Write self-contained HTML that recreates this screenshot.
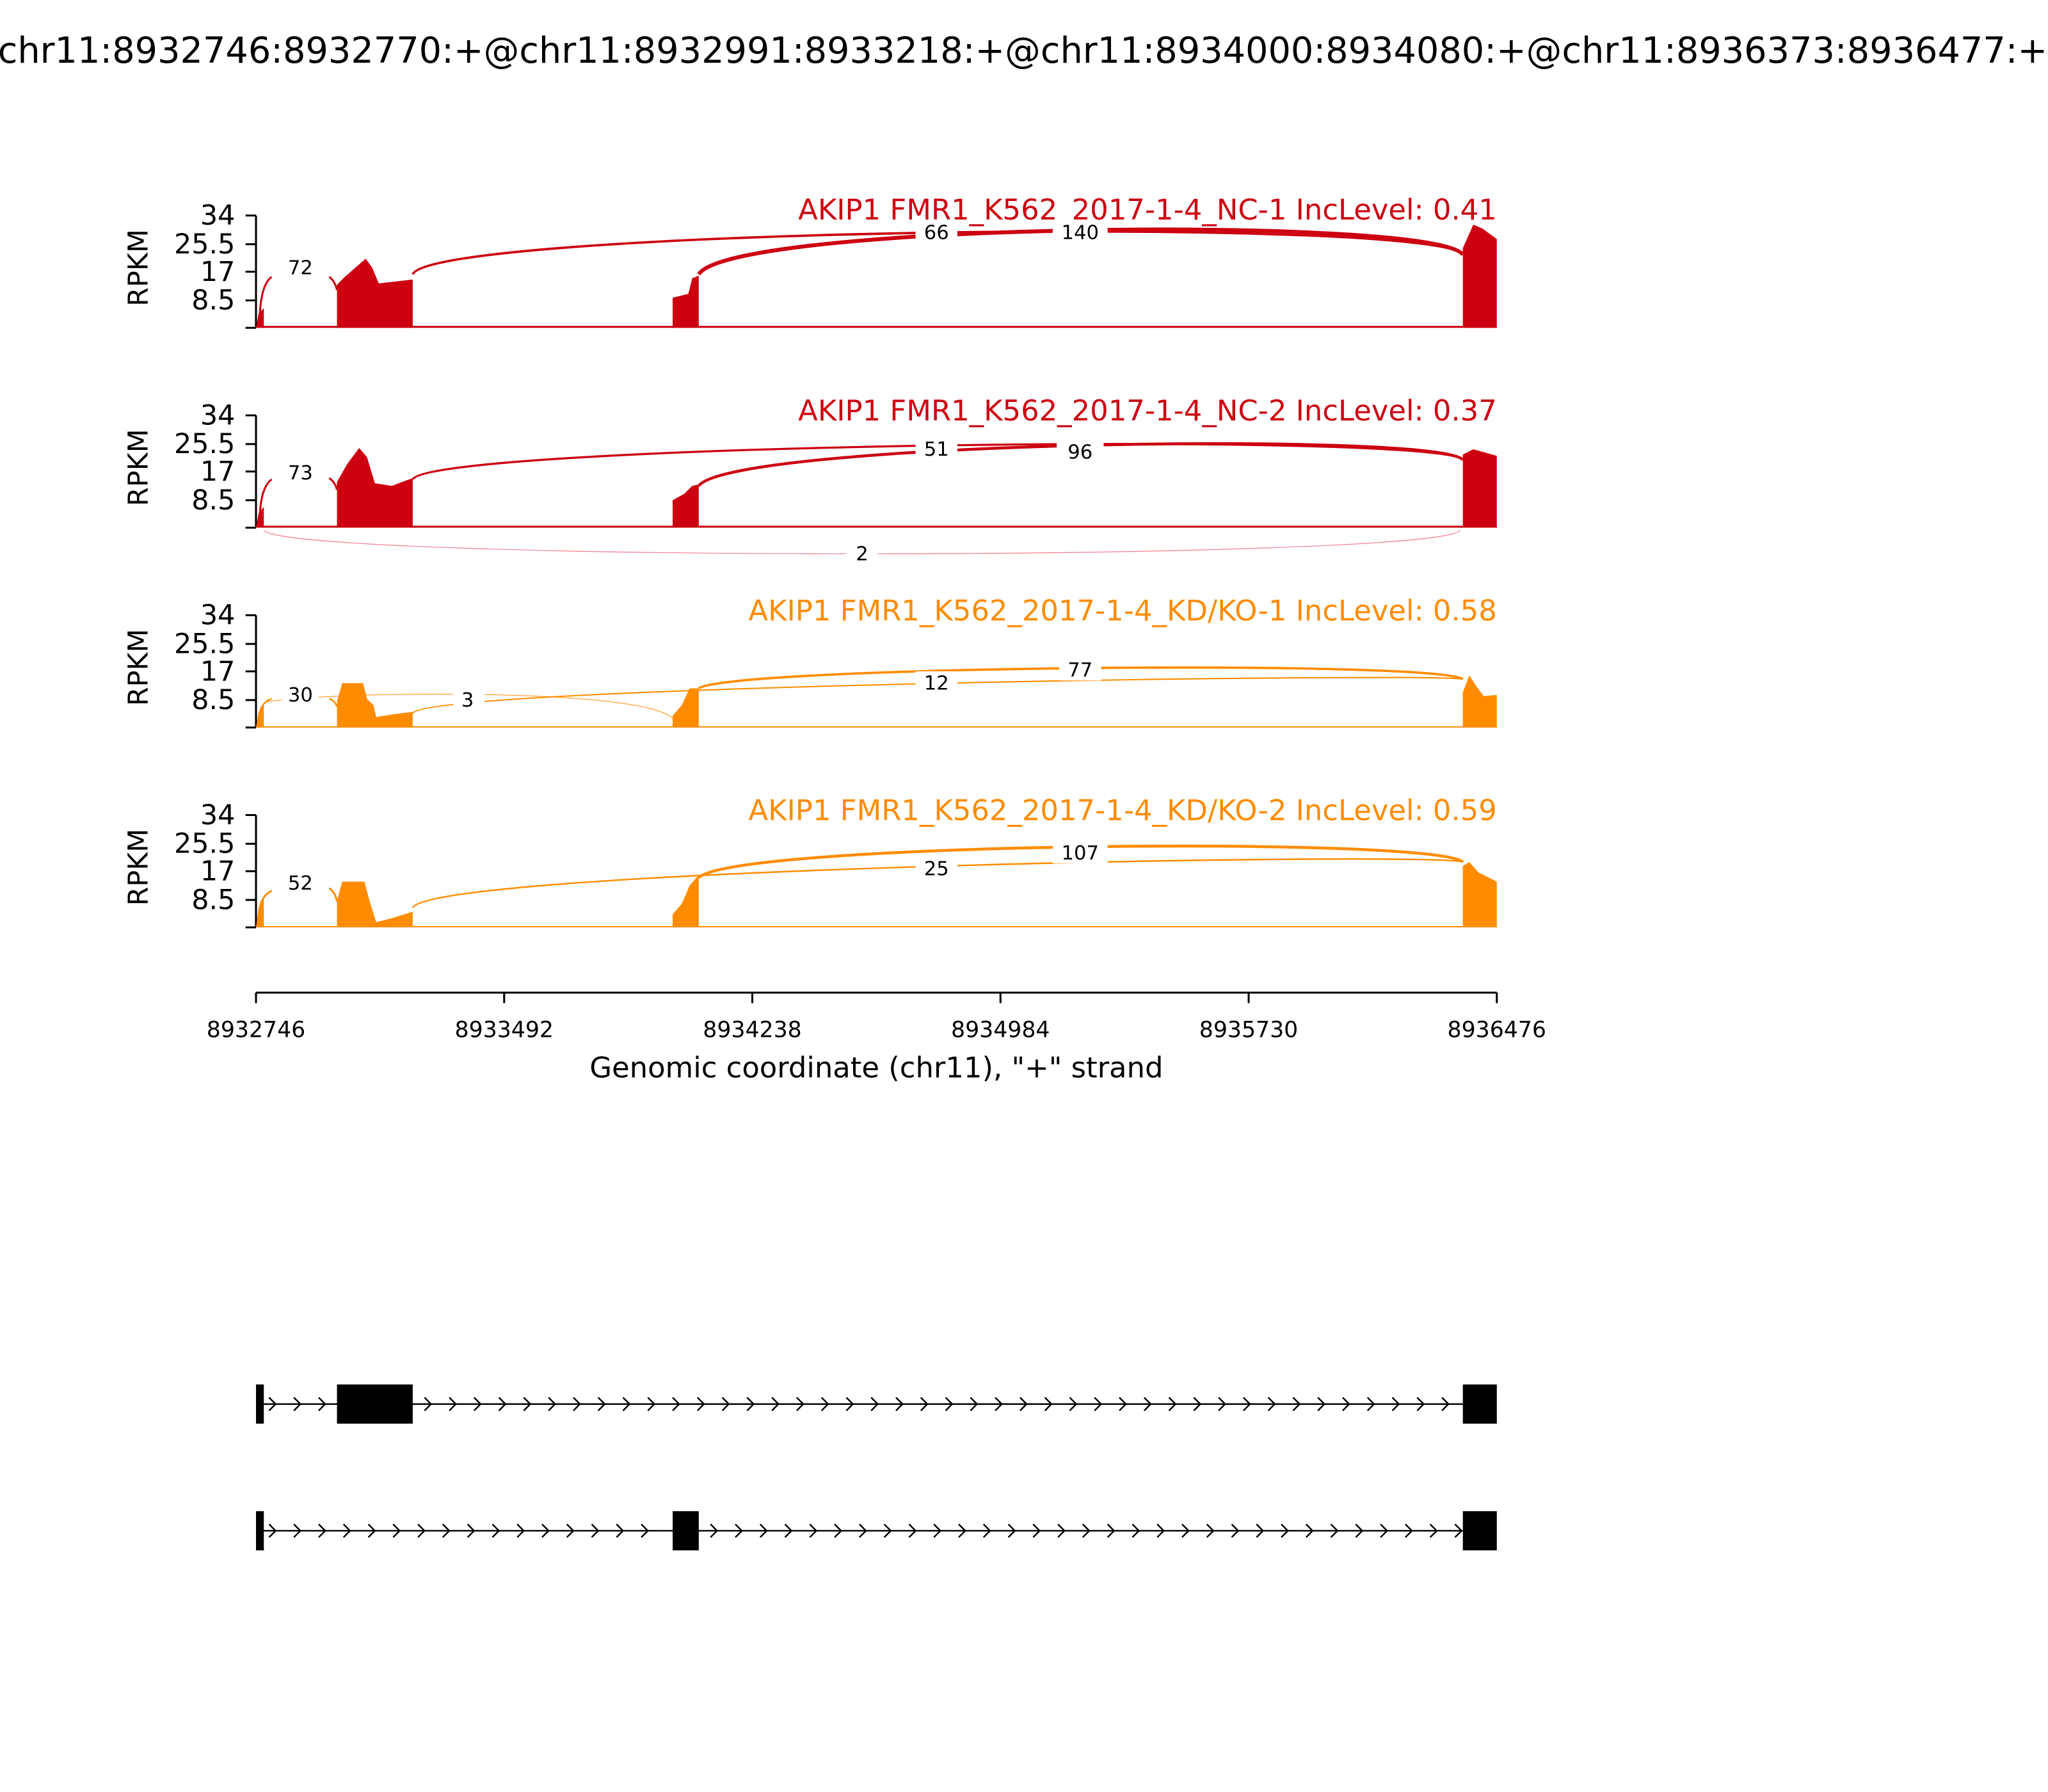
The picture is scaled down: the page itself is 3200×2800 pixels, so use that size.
<!DOCTYPE html>
<html><head><meta charset="utf-8"><style>html,body{margin:0;padding:0;background:#fff}svg{display:block}</style></head>
<body>
<svg width="3200" height="2800" viewBox="0 0 1568 1372" xmlns="http://www.w3.org/2000/svg" font-family="DejaVu Sans, Liberation Sans, sans-serif">
<rect width="1568" height="1372" fill="#fff"/>
<text x="783" y="48" font-size="27.3" text-anchor="middle">chr11:8932746:8932770:+@chr11:8932991:8933218:+@chr11:8934000:8934080:+@chr11:8936373:8936477:+</text>

<g stroke="#000" stroke-width="1.5" fill="none">
<path d="M196,165V251M188,165H196M188,187H196M188,208H196M188,230H196M188,251H196"/>
<path d="M196,318V404M188,318H196M188,340H196M188,361H196M188,383H196M188,404H196"/>
<path d="M196,471V557M188,471H196M188,493H196M188,514H196M188,536H196M188,557H196"/>
<path d="M196,624V710M188,624H196M188,646H196M188,667H196M188,689H196M188,710H196"/>
<path d="M196,760H1146M196,760V768M386,760V768M576,760V768M766,760V768M956,760V768M1146,760V768"/>
</g>
<g font-size="21" text-anchor="end">
<text x="180" y="172">34</text><text x="180" y="194">25.5</text><text x="180" y="215">17</text><text x="180" y="237">8.5</text>
<text x="180" y="325">34</text><text x="180" y="347">25.5</text><text x="180" y="368">17</text><text x="180" y="390">8.5</text>
<text x="180" y="478">34</text><text x="180" y="500">25.5</text><text x="180" y="521">17</text><text x="180" y="543">8.5</text>
<text x="180" y="631">34</text><text x="180" y="653">25.5</text><text x="180" y="674">17</text><text x="180" y="696">8.5</text>
</g>
<g font-size="21" text-anchor="middle">
<text transform="translate(113,205) rotate(-90)">RPKM</text>
<text transform="translate(113,358) rotate(-90)">RPKM</text>
<text transform="translate(113,511) rotate(-90)">RPKM</text>
<text transform="translate(113,664) rotate(-90)">RPKM</text>
</g>
<g font-size="17" text-anchor="middle">
<text x="196" y="794">8932746</text><text x="386" y="794">8933492</text><text x="576" y="794">8934238</text><text x="766" y="794">8934984</text><text x="956" y="794">8935730</text><text x="1146" y="794">8936476</text>
</g>
<text x="671" y="825" font-size="22" text-anchor="middle">Genomic coordinate (chr11), "+" strand</text>

<g font-size="22" text-anchor="end">
<text x="1146" y="168" fill="#cc0011">AKIP1 FMR1_K562_2017-1-4_NC-1 IncLevel: 0.41</text>
<text x="1146" y="322" fill="#cc0011">AKIP1 FMR1_K562_2017-1-4_NC-2 IncLevel: 0.37</text>
<text x="1146" y="475" fill="#ff8c00">AKIP1 FMR1_K562_2017-1-4_KD/KO-1 IncLevel: 0.58</text>
<text x="1146" y="628" fill="#ff8c00">AKIP1 FMR1_K562_2017-1-4_KD/KO-2 IncLevel: 0.59</text>
</g>

<g fill="#cc0011">
<polygon points="196,251 198,240 202,236 202,251"/>
<polygon points="258,251 258,218 264,212 272,205 280,198 285,205 290,217 316,214 316,251"/>
<polygon points="515,251 515,228 527,225 530,213 535,211 535,251"/>
<polygon points="1120,251 1120,190 1128,172 1135,175 1146,183 1146,251"/>
<rect x="196" y="249.5" width="950" height="1.5"/>
</g>
<g fill="none" stroke="#cc0011">
<path d="M199,240 C200,220 205,214 208,212" stroke-width="1.5"/>
<path d="M252,212 C255,214 257,218 258,222" stroke-width="1.5"/>
<path d="M316,210 C330,175 1100,165 1120,195" stroke-width="1.8"/>
<path d="M535,210 C560,170 1100,165 1120,195" stroke-width="3"/>
</g>
<g fill="#cc0011">
<polygon points="196,404 198,393 202,388 202,404"/>
<polygon points="258,404 258,369 266,355 275,343 281,350 287,370 300,372 316,366 316,404"/>
<polygon points="515,404 515,383 524,378 530,372 535,371 535,404"/>
<polygon points="1120,404 1120,348 1128,344 1146,349 1146,404"/>
<rect x="196" y="402.5" width="950" height="1.5"/>
</g>
<g fill="none" stroke="#cc0011">
<path d="M199,393 C200,375 205,369 208,367" stroke-width="1.5"/>
<path d="M252,366 C255,368 257,371 258,375" stroke-width="1.5"/>
<path d="M316,367 C330,340 1100,330 1120,352" stroke-width="1.6"/>
<path d="M535,372 C560,338 1100,330 1120,352" stroke-width="2.2"/>
<path d="M202,406 C220,430 1100,430 1118,406" stroke="#f08090" stroke-width="0.6"/>
</g>
<g fill="#ff8c00">
<polygon points="196,557 198,545 202,540 202,557"/>
<polygon points="258,557 258,537 262,523 278,523 281,535 286,540 288,549 300,547 316,545 316,557"/>
<polygon points="515,557 515,548 522,540 528,527 535,527 535,557"/>
<polygon points="1120,557 1120,530 1125,517 1130,525 1136,533 1146,532 1146,557"/>
<rect x="196" y="556" width="950" height="1"/>
</g>
<g fill="none" stroke="#ff8c00">
<path d="M199,545 C200,540 204,536 208,535" stroke-width="1.2"/>
<path d="M252,535 C255,536 257,538 258,541" stroke-width="1.2"/>
<path d="M202,538 C230,530 490,525 515,550" stroke-width="0.5"/>
<path d="M316,546 C330,525 1100,515 1120,520" stroke-width="1"/>
<path d="M535,527 C560,510 1100,505 1120,520" stroke-width="1.8"/>
</g>
<g fill="#ff8c00">
<polygon points="196,710 198,695 202,687 202,710"/>
<polygon points="258,710 258,690 262,675 279,675 283,690 288,706 300,703 316,698 316,710"/>
<polygon points="515,710 515,700 522,692 528,678 535,670 535,710"/>
<polygon points="1120,710 1120,663 1125,660 1132,668 1146,675 1146,710"/>
<rect x="196" y="709" width="950" height="1"/>
</g>
<g fill="none" stroke="#ff8c00">
<path d="M199,695 C200,688 204,684 208,682" stroke-width="1.5"/>
<path d="M252,680 C255,682 257,685 258,690" stroke-width="1.5"/>
<path d="M316,695 C330,665 1100,652 1120,660" stroke-width="1.2"/>
<path d="M535,672 C560,645 1100,640 1120,660" stroke-width="2.2"/>
</g>

<g font-size="15" text-anchor="middle">
<g fill="#fff"><rect x="216" y="195" width="28" height="17"/><rect x="701" y="170" width="32" height="17"/><rect x="806" y="170" width="42" height="17"/>
<rect x="216" y="352" width="28" height="17"/><rect x="701" y="335" width="32" height="17"/><rect x="809" y="337" width="36" height="17"/><rect x="648" y="415" width="24" height="17"/>
<rect x="216" y="522" width="28" height="17"/><rect x="347" y="527" width="24" height="17"/><rect x="701" y="514" width="32" height="17"/><rect x="811" y="504" width="32" height="17"/>
<rect x="216" y="667" width="28" height="17"/><rect x="701" y="656" width="32" height="17"/><rect x="806" y="644" width="42" height="17"/></g>
<text x="230" y="210">72</text><text x="717" y="183">66</text><text x="827" y="183">140</text>
<text x="230" y="367">73</text><text x="717" y="349">51</text><text x="827" y="351">96</text><text x="660" y="429">2</text>
<text x="230" y="537">30</text><text x="358" y="541">3</text><text x="717" y="528">12</text><text x="827" y="518">77</text>
<text x="230" y="681">52</text><text x="717" y="670">25</text><text x="827" y="658">107</text>
</g>

<g fill="#000">
<rect x="196" y="1060" width="6" height="30"/><rect x="258" y="1060" width="58" height="30"/><rect x="1120" y="1060" width="26" height="30"/>
<rect x="196" y="1157" width="6" height="30"/><rect x="515" y="1157" width="20" height="30"/><rect x="1120" y="1157" width="26" height="30"/>
</g>
<g stroke="#000" stroke-width="1.2" fill="none">
<path d="M196,1075H1120M196,1172H1120"/>
<path d="M206,1070l5,5l-5,5M225,1070l5,5l-5,5M244,1070l5,5l-5,5M325,1070l5,5l-5,5M344,1070l5,5l-5,5M363,1070l5,5l-5,5M382,1070l5,5l-5,5M401,1070l5,5l-5,5M420,1070l5,5l-5,5M439,1070l5,5l-5,5M458,1070l5,5l-5,5M477,1070l5,5l-5,5M496,1070l5,5l-5,5M515,1070l5,5l-5,5M534,1070l5,5l-5,5M553,1070l5,5l-5,5M572,1070l5,5l-5,5M591,1070l5,5l-5,5M610,1070l5,5l-5,5M629,1070l5,5l-5,5M648,1070l5,5l-5,5M667,1070l5,5l-5,5M686,1070l5,5l-5,5M705,1070l5,5l-5,5M724,1070l5,5l-5,5M743,1070l5,5l-5,5M762,1070l5,5l-5,5M781,1070l5,5l-5,5M800,1070l5,5l-5,5M819,1070l5,5l-5,5M838,1070l5,5l-5,5M857,1070l5,5l-5,5M876,1070l5,5l-5,5M895,1070l5,5l-5,5M914,1070l5,5l-5,5M933,1070l5,5l-5,5M952,1070l5,5l-5,5M971,1070l5,5l-5,5M990,1070l5,5l-5,5M1009,1070l5,5l-5,5M1028,1070l5,5l-5,5M1047,1070l5,5l-5,5M1066,1070l5,5l-5,5M1085,1070l5,5l-5,5M1104,1070l5,5l-5,5"/>
<path d="M206,1167l5,5l-5,5M225,1167l5,5l-5,5M244,1167l5,5l-5,5M263,1167l5,5l-5,5M282,1167l5,5l-5,5M301,1167l5,5l-5,5M320,1167l5,5l-5,5M339,1167l5,5l-5,5M358,1167l5,5l-5,5M377,1167l5,5l-5,5M396,1167l5,5l-5,5M415,1167l5,5l-5,5M434,1167l5,5l-5,5M453,1167l5,5l-5,5M472,1167l5,5l-5,5M491,1167l5,5l-5,5M544,1167l5,5l-5,5M563,1167l5,5l-5,5M582,1167l5,5l-5,5M601,1167l5,5l-5,5M620,1167l5,5l-5,5M639,1167l5,5l-5,5M658,1167l5,5l-5,5M677,1167l5,5l-5,5M696,1167l5,5l-5,5M715,1167l5,5l-5,5M734,1167l5,5l-5,5M753,1167l5,5l-5,5M772,1167l5,5l-5,5M791,1167l5,5l-5,5M810,1167l5,5l-5,5M829,1167l5,5l-5,5M848,1167l5,5l-5,5M867,1167l5,5l-5,5M886,1167l5,5l-5,5M905,1167l5,5l-5,5M924,1167l5,5l-5,5M943,1167l5,5l-5,5M962,1167l5,5l-5,5M981,1167l5,5l-5,5M1000,1167l5,5l-5,5M1019,1167l5,5l-5,5M1038,1167l5,5l-5,5M1057,1167l5,5l-5,5M1076,1167l5,5l-5,5M1095,1167l5,5l-5,5M1114,1167l5,5l-5,5"/>
</g>
</svg>
</body></html>
